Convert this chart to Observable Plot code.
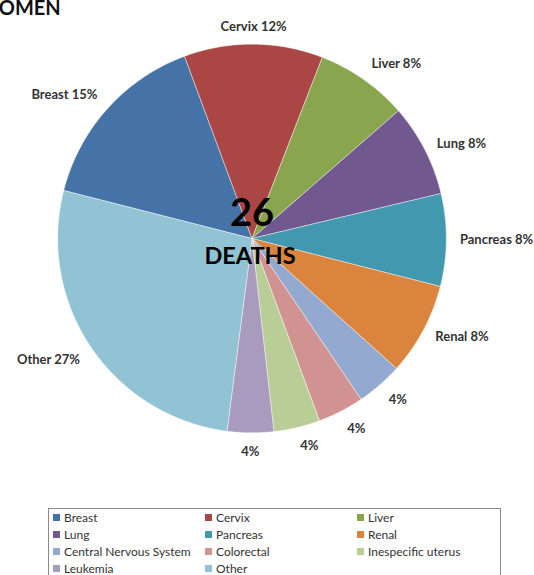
<!DOCTYPE html>
<html>
<head>
<meta charset="utf-8">
<script src="https://cdn.jsdelivr.net/npm/d3@7"></script>
<script src="https://cdn.jsdelivr.net/npm/@observablehq/plot@0.6"></script>
<style>
  html, body { margin: 0; padding: 0; background: #fff; }
  #wrap { position: relative; width: 534px; height: 575px; overflow: hidden; font-family: Lato, "Open Sans", sans-serif; }
  #title { position: absolute; left: -22px; top: -5px; font-size: 20px; font-weight: 700; color: #111; white-space: nowrap; }
  #chart { position: absolute; left: 0; top: 0; }
  #legend { position: absolute; left: 48px; top: 508px; width: 453px; height: 80px; border: 1px solid #8a8a8a; box-sizing: border-box;
            display: grid; grid-template-columns: 152px 152px 149px; grid-auto-rows: 17px; padding: 0 0 0 4px; font-size: 12px; color: #333; }
  .item { display: flex; align-items: center; white-space: nowrap; }
  .sw { width: 7px; height: 7px; margin-right: 4px; flex: none; }
</style>
</head>
<body>
<div id="wrap">
  <div id="chart"></div>
  <div id="title"></div>
  <div id="legend"></div>
</div>
<script>
const titleText = "WOMEN";
const categories = ["Breast","Cervix","Liver","Lung","Pancreas","Renal","Central Nervous System","Colorectal","Inespecific uterus","Leukemia","Other"];
const deaths = [4,3,2,2,2,2,1,1,1,1,7];
const sliceLabels = ["Breast 15%","Cervix 12%","Liver 8%","Lung 8%","Pancreas 8%","Renal 8%","4%","4%","4%","4%","Other 27%"];
const colors = ["#4572A7","#AA4643","#89A54E","#71588F","#4198AF","#DB843D","#93A9CF","#D19392","#B9CD96","#A99BBD","#92C3D4"];
const centerNumber = "26";
const centerWord = "DEATHS";
const firstSliceAngle = -75.7; // degrees clockwise from 12 o'clock

document.getElementById("title").textContent = titleText;

const W = 534, H = 500;
const cx = 251.5, cy = 238, R = 194.3; // pixel layout of the pie
const total = d3.sum(deaths);

const slices = [];
const labelRows = [];
let acc = firstSliceAngle * Math.PI / 180;
categories.forEach((c, i) => {
  const a0 = acc, a1 = acc + deaths[i] / total * 2 * Math.PI;
  acc = a1;
  const n = Math.max(2, Math.ceil((a1 - a0) / (Math.PI / 360)));
  slices.push({cat: c, x: 0, y: 0});
  for (let j = 0; j <= n; j++) {
    const a = a0 + (a1 - a0) * j / n;
    slices.push({cat: c, x: Math.sin(a), y: Math.cos(a)});
  }
  slices.push({cat: c, x: 0, y: 0});
  const am = (a0 + a1) / 2;
  const s = Math.sin(am), co = Math.cos(am);
  const lr = 1.07;
  labelRows.push({
    label: sliceLabels[i], x: s * lr, y: co * lr,
    ta: s > 0.2 ? "start" : s < -0.2 ? "end" : "middle",
    la: co > 0.5 ? "bottom" : co < -0.5 ? "top" : "middle"
  });
});

const textMarks = [];
for (const ta of ["start","middle","end"]) for (const la of ["top","middle","bottom"]) {
  const rows = labelRows.filter(d => d.ta === ta && d.la === la);
  if (rows.length) textMarks.push(Plot.text(rows, {x: "x", y: "y", text: "label", textAnchor: ta, lineAnchor: la,
    fontSize: 13, fontWeight: 700, fill: "#333", fontFamily: "Lato, 'Open Sans', sans-serif"}));
}

const chart = Plot.plot({
  width: W, height: H,
  margin: 0,
  x: {domain: [-cx / R, (W - cx) / R], range: [0, W], axis: null},
  y: {domain: [-(H - cy) / R, cy / R], range: [H, 0], axis: null},
  color: {domain: categories, range: colors},
  style: {background: "transparent", overflow: "visible"},
  marks: [
    Plot.line(slices, {x: "x", y: "y", z: "cat", fill: "cat", stroke: "#ffffff", strokeWidth: 0.6, strokeOpacity: 0.7, curve: "linear"}),
    ...textMarks,
    Plot.text([centerNumber], {x: () => 0, y: () => 0, text: d => d, dy: -25, fontSize: 38, fontWeight: 700, fill: "#000", fontFamily: "Lato, sans-serif"}),
    Plot.text([centerWord], {x: () => 0, y: () => 0, text: d => d, dy: 18, dx: -2, fontSize: 23.5, fontWeight: 700, fill: "#000", fontFamily: "Lato, sans-serif"})
  ]
});
document.getElementById("chart").appendChild(chart);

const legend = document.getElementById("legend");
categories.forEach((c, i) => {
  const it = document.createElement("div");
  it.className = "item";
  const sw = document.createElement("span");
  sw.className = "sw";
  sw.style.background = colors[i];
  it.appendChild(sw);
  it.appendChild(document.createTextNode(c));
  legend.appendChild(it);
});
</script>
</body>
</html>
